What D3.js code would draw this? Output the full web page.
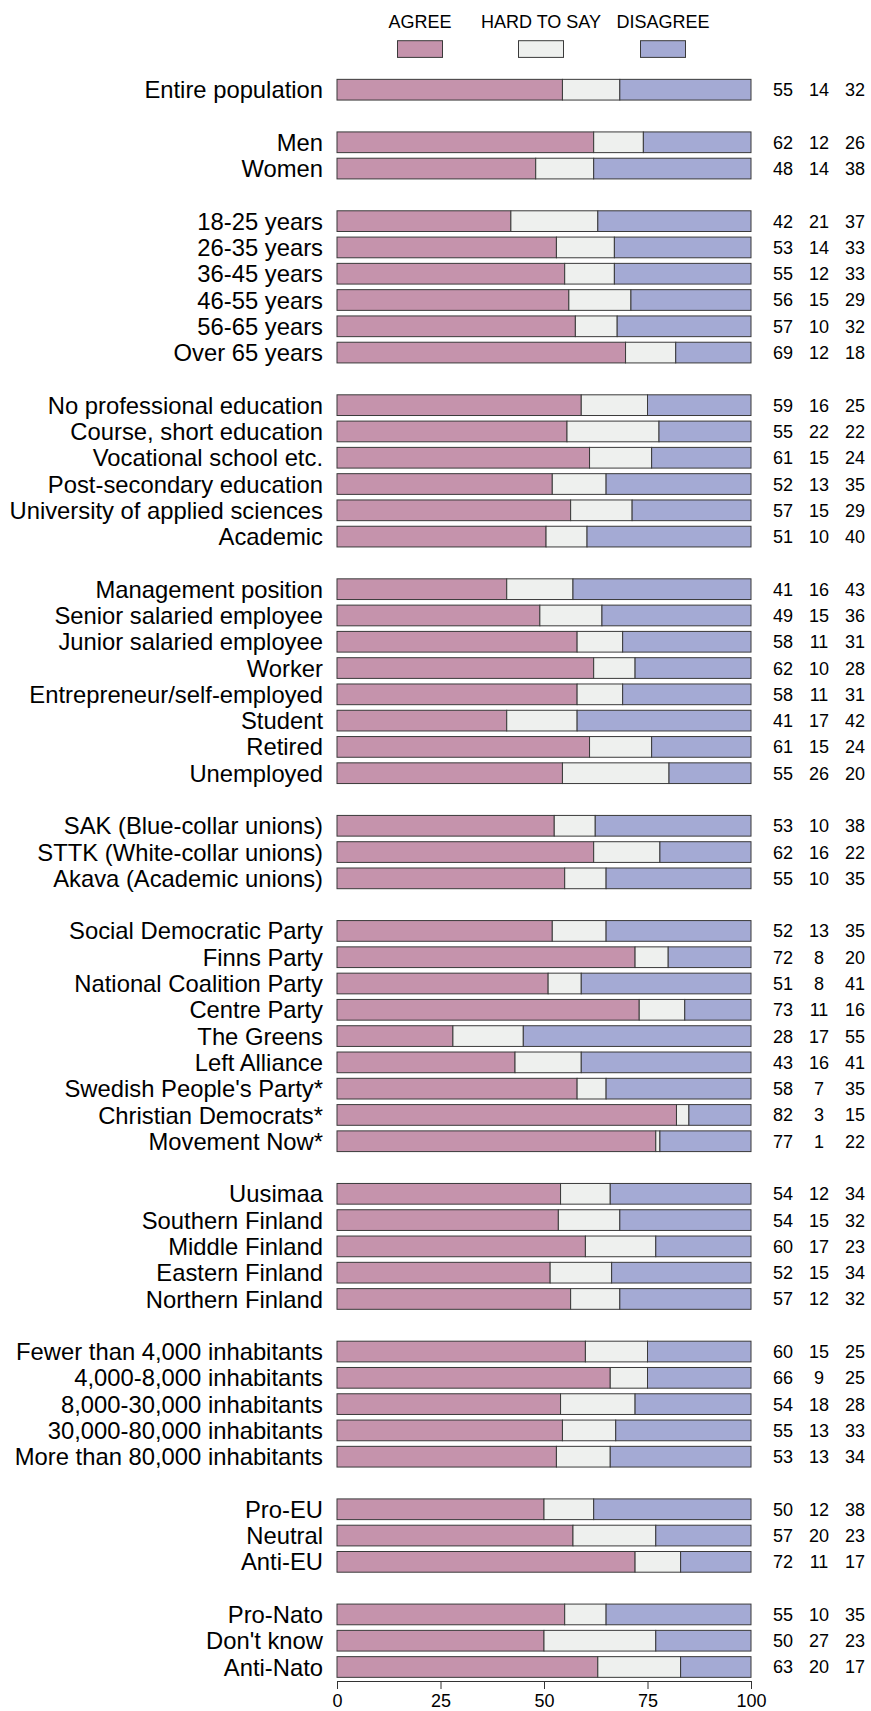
<!DOCTYPE html>
<html>
<head>
<meta charset="utf-8">
<script src="https://cdn.jsdelivr.net/npm/d3@7"></script>
<style>
  html, body { margin: 0; padding: 0; background: #fff; }
  svg { display: block; }
  text { font-family: "Liberation Sans", Arial, sans-serif; fill: #000; }
</style>
</head>
<body>
<svg id="chart" width="871" height="1711"></svg>
<script>
const seriesNames = ["AGREE", "HARD TO SAY", "DISAGREE"];
const seriesColors = ["#c593ac", "#eef0ee", "#a4aad4"];

const categories = [
  "Entire population",
  "Men", "Women",
  "18-25 years", "26-35 years", "36-45 years", "46-55 years", "56-65 years", "Over 65 years",
  "No professional education", "Course, short education", "Vocational school etc.",
  "Post-secondary education", "University of applied sciences", "Academic",
  "Management position", "Senior salaried employee", "Junior salaried employee", "Worker",
  "Entrepreneur/self-employed", "Student", "Retired", "Unemployed",
  "SAK (Blue-collar unions)", "STTK (White-collar unions)", "Akava (Academic unions)",
  "Social Democratic Party", "Finns Party", "National Coalition Party", "Centre Party",
  "The Greens", "Left Alliance", "Swedish People's Party*", "Christian Democrats*", "Movement Now*",
  "Uusimaa", "Southern Finland", "Middle Finland", "Eastern Finland", "Northern Finland",
  "Fewer than 4,000 inhabitants", "4,000-8,000 inhabitants", "8,000-30,000 inhabitants",
  "30,000-80,000 inhabitants", "More than 80,000 inhabitants",
  "Pro-EU", "Neutral", "Anti-EU",
  "Pro-Nato", "Don't know", "Anti-Nato"
];

// number of categories in each consecutive group
const groupSizes = [1, 2, 6, 6, 8, 3, 9, 5, 5, 3, 3];

const agree = [
  55,
  62, 48,
  42, 53, 55, 56, 57, 69,
  59, 55, 61, 52, 57, 51,
  41, 49, 58, 62, 58, 41, 61, 55,
  53, 62, 55,
  52, 72, 51, 73, 28, 43, 58, 82, 77,
  54, 54, 60, 52, 57,
  60, 66, 54, 55, 53,
  50, 57, 72,
  55, 50, 63
];
const hardToSay = [
  14,
  12, 14,
  21, 14, 12, 15, 10, 12,
  16, 22, 15, 13, 15, 10,
  16, 15, 11, 10, 11, 17, 15, 26,
  10, 16, 10,
  13, 8, 8, 11, 17, 16, 7, 3, 1,
  12, 15, 17, 15, 12,
  15, 9, 18, 13, 13,
  12, 20, 11,
  10, 27, 20
];
const disagree = [
  32,
  26, 38,
  37, 33, 33, 29, 32, 18,
  25, 22, 24, 35, 29, 40,
  43, 36, 31, 28, 31, 42, 24, 20,
  38, 22, 35,
  35, 20, 41, 16, 55, 41, 35, 15, 22,
  34, 32, 23, 34, 32,
  25, 25, 28, 33, 34,
  38, 23, 17,
  35, 23, 17
];
const xTicks = [0, 25, 50, 75, 100];

// ---- layout ----
const svg = d3.select("#chart");
const font = '"Liberation Sans", Arial, sans-serif';

// slot index for each category (one empty slot between groups)
const slots = [];
{
  let s = 0;
  groupSizes.forEach((g, gi) => {
    for (let k = 0; k < g; k++) slots.push(s++);
    s++;
  });
}
const nSlots = slots[slots.length - 1];

const x = d3.scaleLinear().domain([0, 100]).range([337, 751]);
const y = d3.scaleLinear().domain([0, nSlots]).range([89.7, 1667]);
const barH = 20.7;

const rows = categories.map((c, i) => {
  const vals = [agree[i], hardToSay[i], disagree[i]];
  const total = d3.sum(vals);
  let cum = 0;
  const segs = vals.map((v, j) => {
    const s = { j, x0: cum / total * 100, x1: (cum + v) / total * 100 };
    cum += v;
    return s;
  });
  return { name: c, slot: slots[i], vals, segs };
});

const g = svg.append("g");

const row = g.selectAll("g.row").data(rows).join("g").attr("class", "row");

row.selectAll("rect").data(d => d.segs.map(s => ({ ...s, slot: d.slot })))
  .join("rect")
  .attr("x", d => x(d.x0))
  .attr("width", d => x(d.x1) - x(d.x0))
  .attr("y", d => y(d.slot) - barH / 2)
  .attr("height", barH)
  .attr("fill", d => seriesColors[d.j])
  .attr("stroke", "#3a3a3a")
  .attr("stroke-width", 1);

row.append("text")
  .attr("x", 323)
  .attr("y", d => y(d.slot))
  .attr("dy", "0.36em")
  .attr("text-anchor", "end")
  .style("font-size", "23.8px")
  .text(d => d.name);

const valX = [783, 819, 855];
row.selectAll("text.val").data(d => d.vals.map((v, j) => ({ v, j, slot: d.slot })))
  .join("text")
  .attr("class", "val")
  .attr("x", d => valX[d.j])
  .attr("y", d => y(d.slot))
  .attr("dy", "0.36em")
  .attr("text-anchor", "middle")
  .style("font-size", "18px")
  .text(d => d.v);

// ---- legend ----
const legX = [420, 541, 663];
const leg = svg.append("g").selectAll("g").data(seriesNames).join("g");
leg.append("text")
  .attr("x", (d, i) => legX[i])
  .attr("y", 27.5)
  .attr("text-anchor", "middle")
  .style("font-size", "18px")
  .text(d => d);
leg.append("rect")
  .attr("x", (d, i) => legX[i] - 22.5)
  .attr("y", 40.7)
  .attr("width", 45)
  .attr("height", 16.7)
  .attr("fill", (d, i) => seriesColors[i])
  .attr("stroke", "#3a3a3a")
  .attr("stroke-width", 1);

// ---- axis ----
const axis = d3.axisBottom(x).tickValues(xTicks).tickSize(8).tickSizeOuter(0).tickPadding(5);
const ax = svg.append("g").attr("transform", "translate(0,1681)").call(axis);
ax.select(".domain").attr("stroke", "#333");
ax.selectAll(".tick line").attr("stroke", "#333");
ax.selectAll(".tick text").style("font-size", "18px").style("font-family", font).attr("fill", "#000");
</script>
</body>
</html>
